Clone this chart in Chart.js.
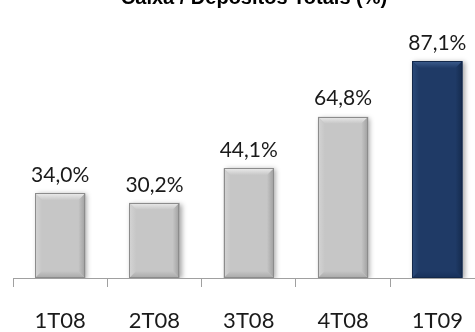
<!DOCTYPE html>
<html>
<head>
<meta charset="utf-8">
<script src="https://cdn.jsdelivr.net/npm/chart.js@4.4.1/dist/chart.umd.min.js"></script>
<style>
  html, body { margin:0; padding:0; background:#ffffff; overflow:hidden; width:475px; height:332px; }
  #wrap { position:absolute; left:0; top:0; width:486px; height:355px; }
</style>
</head>
<body>
<div id="wrap"><canvas id="c" width="486" height="355"></canvas></div>
<script>
// ---- data ----
const categories = ['1T08', '2T08', '3T08', '4T08', '1T09'];
const values = [34.0, 30.2, 44.1, 64.8, 87.1];
const valueLabels = ['34,0%', '30,2%', '44,1%', '64,8%', '87,1%'];
const titleText = 'Caixa / Depósitos Totais (%)';

// ---- styles ----
const gray = { body:'#c6c6c6', top:'#ececec', left:'#d4d4d4', right:'#9e9e9e', bottom:'#a8a8a8', edge:'#8c8c8c' };
const navy = { body:'#1f3a66', top:'#3d5d8e', left:'#2a4a7a', right:'#142a4c', bottom:'#17305a', edge:'#13284a' };
const styles = categories.map((c, i) => i === categories.length - 1 ? navy : gray);

const bevelPlugin = {
  id: 'bevel',
  beforeDatasetsDraw(chart) {
    const ctx = chart.ctx;
    ctx.save();
    ctx.shadowColor = 'rgba(0,0,0,0.35)';
    ctx.shadowBlur = 5;
    ctx.shadowOffsetX = 2;
    ctx.shadowOffsetY = 1;
  },
  afterDatasetsDraw(chart) {
    const ctx = chart.ctx;
    ctx.restore();
    const meta = chart.getDatasetMeta(0);
    meta.data.forEach((el, i) => {
      const p = el.getProps(['x', 'y', 'base', 'width'], true);
      const s = styles[i];
      const L = p.x - p.width / 2, R = p.x + p.width / 2, T = p.y, B = p.base;
      const b = 7;
      ctx.save();
      let g = ctx.createLinearGradient(0, T, 0, T + b);
      g.addColorStop(0, s.top); g.addColorStop(1, s.body);
      ctx.fillStyle = g;
      ctx.beginPath(); ctx.moveTo(L, T); ctx.lineTo(R, T); ctx.lineTo(R - b, T + b); ctx.lineTo(L + b, T + b); ctx.closePath(); ctx.fill();
      g = ctx.createLinearGradient(L, 0, L + b, 0);
      g.addColorStop(0, s.left); g.addColorStop(1, s.body);
      ctx.fillStyle = g;
      ctx.beginPath(); ctx.moveTo(L, T); ctx.lineTo(L + b, T + b); ctx.lineTo(L + b, B - b); ctx.lineTo(L, B); ctx.closePath(); ctx.fill();
      g = ctx.createLinearGradient(R - b, 0, R, 0);
      g.addColorStop(0, s.body); g.addColorStop(1, s.right);
      ctx.fillStyle = g;
      ctx.beginPath(); ctx.moveTo(R, T); ctx.lineTo(R - b, T + b); ctx.lineTo(R - b, B - b); ctx.lineTo(R, B); ctx.closePath(); ctx.fill();
      g = ctx.createLinearGradient(0, B - b, 0, B);
      g.addColorStop(0, s.body); g.addColorStop(1, s.bottom);
      ctx.fillStyle = g;
      ctx.beginPath(); ctx.moveTo(L, B); ctx.lineTo(R, B); ctx.lineTo(R - b, B - b); ctx.lineTo(L + b, B - b); ctx.closePath(); ctx.fill();
      ctx.strokeStyle = s.edge; ctx.lineWidth = 1;
      ctx.strokeRect(Math.round(L) + 0.5, Math.round(T) + 0.5, Math.round(R - L) - 1, Math.round(B - T) - 1);
      ctx.restore();
      ctx.save();
      ctx.font = '21px Lato';
      ctx.fillStyle = '#1a1a1a';
      ctx.textAlign = 'center';
      ctx.textBaseline = 'middle';
      ctx.fillText(valueLabels[i], p.x, T - 18);
      ctx.restore();
    });
  },
  afterDraw(chart) {
    const ctx = chart.ctx;
    ctx.save();
    ctx.font = 'bold 20px "Liberation Sans"';
    ctx.fillStyle = '#000';
    ctx.textAlign = 'center';
    ctx.textBaseline = 'alphabetic';
    ctx.fillText(titleText, 254, 4);
    ctx.restore();
  }
};

new Chart(document.getElementById('c'), {
  type: 'bar',
  data: {
    labels: categories,
    datasets: [{
      data: values,
      backgroundColor: styles.map(s => s.body),
      borderWidth: 0,
      barPercentage: 0.62,
      categoryPercentage: 0.86
    }]
  },
  options: {
    responsive: false,
    animation: false,
    devicePixelRatio: 1,
    layout: { padding: { top: 29, left: 13, right: 0, bottom: 0 } },
    plugins: { legend: { display: false }, tooltip: { enabled: false }, title: { display: false } },
    scales: {
      x: {
        grid: { display: true, drawOnChartArea: false, drawTicks: true, tickLength: 9, color: '#a0a0a0', offset: true },
        border: { display: true, color: '#a0a0a0', width: 1 },
        ticks: { font: { family: 'Lato', size: 22, lineHeight: 1.0 }, color: '#1a1a1a', padding: 23 }
      },
      y: { display: false, min: 0, max: 100 }
    }
  },
  plugins: [bevelPlugin]
});
</script>
</body>
</html>
